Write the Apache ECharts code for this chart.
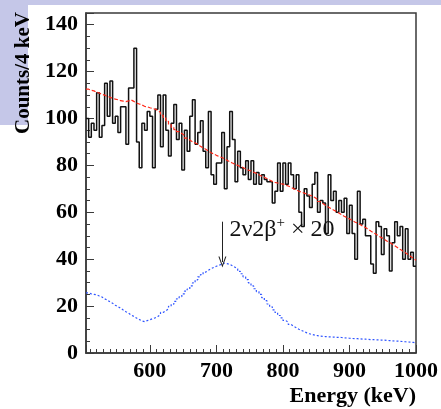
<!DOCTYPE html>
<html>
<head>
<meta charset="utf-8">
<script src="https://cdn.jsdelivr.net/npm/echarts@6/dist/echarts.min.js"></script>
<style>
  html, body { margin: 0; padding: 0; background: #ffffff; }
  #chart { width: 441px; height: 409px; }
</style>
</head>
<body>
<div id="chart"></div>
<script>
// Energy binning of the spectrum (keV)
const binStart = 504;
const binWidth = 4;
const xRange = [504, 1000];
const yRange = [0, 145];

// Measured counts per 4 keV bin
const dataCounts = [
  100, 92, 98, 95, 111, 92, 97, 115, 101, 116,
  98, 101, 94, 105, 105, 89, 113, 113, 130, 90,
  79, 98, 95, 103, 101, 79, 104, 110, 88, 110,
  95, 84, 98, 106, 91, 98, 78, 95, 86, 101,
  108, 89, 94, 99, 86, 79, 103, 76, 72, 81,
  81, 94, 70, 88, 103, 91, 73, 86, 79, 76,
  82, 74, 82, 72, 77, 72, 76, 74, 73, 73,
  64, 69, 81, 69, 81, 72, 81, 76, 70, 76,
  60, 54, 70, 67, 62, 72, 77, 60, 65, 64,
  51, 76, 65, 69, 60, 65, 60, 66, 51, 63,
  51, 40, 69, 55, 57, 50, 50, 38, 34, 56,
  54, 42, 53, 50, 35, 47, 56, 50, 54, 40,
  53, 40, 43, 37
];

// Background model fit per bin
const fitCounts = [
  112.5, 112.0, 111.8, 111.2, 110.9, 110.3, 110.0, 109.4, 109.1, 108.6,
  108.3, 108.0, 107.6, 107.4, 107.2, 107.5, 107.9, 107.3, 106.6, 106.2,
  105.8, 105.2, 105.0, 104.6, 104.3, 104.0, 103.4, 102.6, 101.4, 100.2,
  98.8, 97.4, 96.2, 95.3, 94.4, 93.6, 92.8, 91.6, 90.8, 90.1,
  89.6, 89.0, 88.2, 87.5, 86.9, 86.1, 85.4, 84.9, 84.3, 83.8,
  83.4, 82.9, 82.2, 81.6, 81.0, 80.5, 80.0, 79.5, 79.1, 78.5,
  78.0, 77.6, 77.1, 76.6, 76.0, 75.4, 74.9, 74.4, 73.8, 73.2,
  72.8, 72.5, 72.2, 72.0, 71.6, 71.2, 70.7, 70.1, 69.6, 69.0,
  68.6, 68.2, 67.8, 67.4, 66.9, 66.3, 65.5, 64.6, 63.8, 63.0,
  62.3, 61.6, 61.0, 60.4, 59.7, 59.0, 58.3, 57.8, 57.2, 56.5,
  55.9, 55.4, 54.8, 54.1, 53.5, 52.8, 52.0, 51.3, 50.6, 49.9,
  49.2, 48.6, 47.8, 47.2, 46.5, 45.8, 45.0, 44.2, 43.5, 42.8,
  42.0, 41.2, 40.4, 39.6
];

// Simulated 2ν2β+ spectrum, scaled by 20
const signalX20 = [
  25.6, 25.2, 25.0, 24.8, 24.3, 23.9, 23.1, 22.6, 21.8, 21.2,
  20.4, 19.8, 19.1, 18.3, 17.6, 17.0, 16.2, 15.6, 14.9, 14.3,
  13.7, 13.4, 13.8, 14.2, 14.6, 15.0, 15.6, 16.4, 17.3, 18.0,
  18.8, 19.9, 20.8, 22.0, 23.1, 24.0, 25.2, 26.4, 27.3, 28.6,
  29.9, 31.2, 32.5, 33.4, 34.5, 35.3, 36.0, 36.5, 37.0, 37.4,
  37.9, 38.3, 38.1, 37.8, 37.2, 36.6, 35.9, 34.8, 33.8, 32.5,
  31.3, 29.9, 28.6, 27.4, 26.2, 25.0, 23.6, 22.3, 20.9, 19.7,
  18.4, 17.3, 16.0, 15.0, 13.9, 13.1, 12.2, 11.4, 10.8, 10.1,
  9.6, 9.1, 8.6, 8.2, 7.9, 7.6, 7.4, 7.2, 7.1, 7.0,
  6.9, 6.9, 6.8, 6.7, 6.7, 6.6, 6.5, 6.4, 6.3, 6.2,
  6.1, 6.1, 6.0, 5.9, 5.9, 5.8, 5.7, 5.7, 5.6, 5.6,
  5.5, 5.5, 5.4, 5.3, 5.2, 5.1, 5.1, 5.0, 4.9, 4.8,
  4.7, 4.6, 4.5, 4.4
];

// Arrow marking the signal peak
const peakArrow = { energy: 709, from: 56, to: 38.8 };
const peakLabel = '2ν2β{sup|+} × 20';

// Turn per-bin values into histogram outline points (bin low edges + closing edge)
function histPoints(values) {
  const pts = values.map((v, i) => [binStart + i * binWidth, v]);
  pts.push([binStart + values.length * binWidth, values[values.length - 1]]);
  return pts;
}

const serif = '"Liberation Serif", "DejaVu Serif", serif';
const frameColor = '#3a3a3a';

const chart = echarts.init(document.getElementById('chart'), null, { renderer: 'canvas' });

chart.setOption({
  animation: false,
  backgroundColor: '#ffffff',
  graphic: [
    { type: 'rect', z: -10, shape: { x: 0, y: 0, width: 441, height: 5 }, style: { fill: '#c5c7e8' } },
    { type: 'rect', z: -10, shape: { x: 0, y: 0, width: 28, height: 125 }, style: { fill: '#c5c7e8' } },
    {
      type: 'text', z: 10, x: 24, y: 73, rotation: Math.PI / 2,
      style: {
        text: 'Counts/4 keV', fill: '#000',
        font: 'bold 21px ' + serif,
        textAlign: 'center', textVerticalAlign: 'middle'
      }
    }
  ],
  grid: {
    left: 86, right: 25, top: 13, bottom: 56,
    show: true, borderColor: frameColor, borderWidth: 1.5, backgroundColor: 'transparent'
  },
  xAxis: {
    type: 'value',
    min: xRange[0], max: xRange[1],
    name: 'Energy (keV)',
    nameLocation: 'end',
    nameGap: 0,
    nameTextStyle: {
      fontFamily: serif, fontWeight: 'bold', fontSize: 22, color: '#000',
      align: 'right', verticalAlign: 'top', padding: [32, 0, 0, 0]
    },
    axisLine: { show: true, lineStyle: { color: frameColor, width: 1.5 } },
    axisTick: { show: true, inside: true, length: 8, lineStyle: { color: frameColor, width: 1 } },
    minorTick: { show: true, splitNumber: 10, length: 4, lineStyle: { color: frameColor, width: 1 } },
    splitLine: { show: false },
    axisLabel: {
      showMinLabel: false,
      formatter: v => String(v),
      fontFamily: serif, fontWeight: 'bold', fontSize: 22, color: '#000', margin: 7
    }
  },
  yAxis: {
    type: 'value',
    min: yRange[0], max: yRange[1], interval: 20,
    axisLine: { show: true, lineStyle: { color: frameColor, width: 1.5 } },
    axisTick: { show: true, inside: true, length: 8, lineStyle: { color: frameColor, width: 1 } },
    minorTick: { show: true, splitNumber: 4, length: 4, lineStyle: { color: frameColor, width: 1 } },
    splitLine: { show: false },
    axisLabel: {
      showMaxLabel: false,
      formatter: v => (v % 20 === 0 ? String(v) : ''),
      fontFamily: serif, fontWeight: 'bold', fontSize: 22, color: '#000', margin: 8
    }
  },
  series: [
    {
      name: 'data',
      type: 'line',
      step: 'end',
      data: histPoints(dataCounts),
      showSymbol: false,
      lineStyle: { color: '#111111', width: 1.5 },
      z: 2
    },
    {
      name: 'fit',
      type: 'line',
      step: 'end',
      data: histPoints(fitCounts),
      showSymbol: false,
      lineStyle: { color: '#ff2a1a', width: 1.2, type: [4, 2] },
      z: 3
    },
    {
      name: 'signal',
      type: 'line',
      step: 'end',
      data: histPoints(signalX20),
      showSymbol: false,
      lineStyle: { color: '#2f55ff', width: 1.2, type: [2, 2] },
      z: 3,
      markLine: {
        silent: true,
        symbol: ['none', 'path://M0,10 L5,0 L10,10 L8.6,10 L5,2.6 L1.4,10 Z'],
        symbolSize: [8, 11],
        lineStyle: { color: '#222', width: 1, type: 'solid' },
        label: { show: false },
        data: [[
          { coord: [peakArrow.energy, peakArrow.from] },
          { coord: [peakArrow.energy, peakArrow.to] }
        ]]
      },
      markPoint: {
        silent: true,
        symbol: 'circle',
        symbolSize: 0,
        data: [{ coord: [peakArrow.energy, peakArrow.from] }],
        label: {
          show: true,
          position: 'right',
          distance: 5,
          offset: [2, 8],
          formatter: peakLabel,
          fontFamily: serif, fontSize: 24, color: '#111',
          rich: {
            sup: { fontFamily: serif, fontSize: 15, color: '#111', padding: [0, 0, 14, 0] }
          }
        }
      }
    }
  ]
});
</script>
</body>
</html>
